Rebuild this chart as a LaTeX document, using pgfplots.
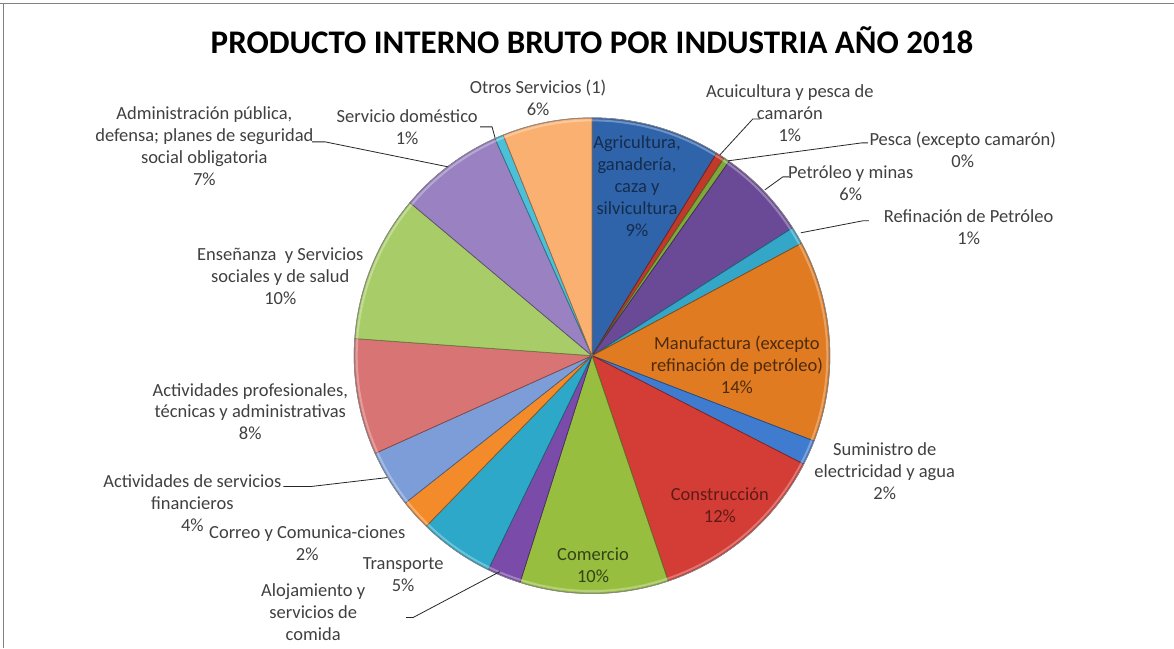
\documentclass[border=0pt]{standalone}
\usepackage{pgfplots}
\pgfplotsset{compat=1.18}
\usepackage{pgfplotstable}
\usepackage{fontspec}
\setmainfont{Carlito}

% slice colours, clockwise from 12 o'clock
\definecolor{c0}{HTML}{2F63AA}
\definecolor{c1}{HTML}{C0392B}
\definecolor{c2}{HTML}{7FA83A}
\definecolor{c3}{HTML}{6A4A96}
\definecolor{c4}{HTML}{34A6C8}
\definecolor{c5}{HTML}{E07B22}
\definecolor{c6}{HTML}{3F7CD0}
\definecolor{c7}{HTML}{D43C36}
\definecolor{c8}{HTML}{98BE40}
\definecolor{c9}{HTML}{7A4BA8}
\definecolor{c10}{HTML}{2DA8C8}
\definecolor{c11}{HTML}{F48B2A}
\definecolor{c12}{HTML}{7C9DD8}
\definecolor{c13}{HTML}{D97474}
\definecolor{c14}{HTML}{A8CC68}
\definecolor{c15}{HTML}{9A82C2}
\definecolor{c16}{HTML}{4BC0D8}
\definecolor{c17}{HTML}{FAB070}
\definecolor{lbl}{HTML}{404040}

% share of GDP (%) per industry, 2018
\pgfplotstableread{
val
8.8
0.6
0.4
6.2
1.2
13.7
1.7
12.3
10.1
2.3
5.1
2.1
3.9
7.9
10.0
7.2
0.6
6.1
}\piedata

\begin{document}
\begin{tikzpicture}[
  lab/.style={font=\fontsize{18.5bp}{22bp}\selectfont, align=center, inner sep=0pt, text=lbl},
]
\begin{axis}[
  width=1174bp, height=649bp, scale only axis,
  xmin=0, xmax=1174, ymin=0, ymax=649, y dir=reverse,
  hide axis, clip=false,
]
\fill[white] (axis cs:0,0) rectangle (axis cs:1174,649);
\draw[gray, line width=1bp] (axis cs:0,3.5) -- (axis cs:1174,3.5);
\draw[gray, line width=1bp] (axis cs:3.5,3.5) -- (axis cs:3.5,649);

% total for normalising
\pgfmathsetmacro\tot{0}
\pgfplotsforeachungrouped \i in {0,...,17}{%
  \pgfplotstablegetelem{\i}{val}\of\piedata
  \pgfmathsetmacro\tot{\tot+\pgfplotsretval}%
}
\pgfmathsetmacro\scl{360/\tot}
\pgfmathsetmacro\acc{0}
\pgfplotsforeachungrouped \i in {0,...,17}{%
  \pgfplotstablegetelem{\i}{val}\of\piedata
  \pgfmathsetmacro\sa{90-\scl*\acc}%
  \pgfmathsetmacro\acc{\acc+\pgfplotsretval}%
  \pgfmathsetmacro\sb{90-\scl*\acc}%
  \edef\temp{\noexpand\filldraw[fill=c\i, draw=c\i!60!black, line width=0.7bp]
    (axis cs:592,356) -- ++(\sa:238bp) arc[start angle=\sa, end angle=\sb, radius=238bp] -- cycle;}%
  \temp
}
% soft bevel on the rim
\draw[white, opacity=0.3, line width=2bp] (axis cs:592,356) circle[radius=235.5bp];
\draw[black!45, line width=0.7bp] (axis cs:592,356) circle[radius=238bp];

\node[font=\fontsize{33bp}{36bp}\selectfont\bfseries, text=black] at (axis cs:592,40) {PRODUCTO INTERNO BRUTO POR INDUSTRIA AÑO 2018};

% leader lines
\begin{scope}[black!85, line width=0.8bp]
\draw (axis cs:720,155) -- (axis cs:753,119) -- (axis cs:760,119);
\draw (axis cs:728,161) -- (axis cs:862,143) -- (axis cs:868,143);
\draw (axis cs:765,190) -- (axis cs:783,177) -- (axis cs:789,177);
\draw (axis cs:801,233) -- (axis cs:863,221) -- (axis cs:869,221);
\draw (axis cs:312,142) -- (axis cs:325,142) -- (axis cs:448,167);
\draw (axis cs:480,127) -- (axis cs:492,127) -- (axis cs:495,138);
\draw (axis cs:283,487) -- (axis cs:310,487) -- (axis cs:387,478);
\draw (axis cs:406,618) -- (axis cs:413,618) -- (axis cs:500,572);
\end{scope}

% outside labels
\node[lab] at (axis cs:538,97.5) {Otros Servicios (1)\\6\%};
\node[lab] at (axis cs:790,113) {Acuicultura y pesca de\\camarón\\1\%};
\node[lab] at (axis cs:963,150) {Pesca (excepto camarón)\\0\%};
\node[lab] at (axis cs:851,183.5) {Petróleo y minas\\6\%};
\node[lab] at (axis cs:969,227.5) {Refinación de Petróleo\\1\%};
\node[lab] at (axis cs:885,472) {Suministro de\\electricidad y agua\\2\%};
\node[lab] at (axis cs:403,575) {Transporte\\5\%};
\node[lab] at (axis cs:313,613) {Alojamiento y\\servicios de\\comida};
\node[lab] at (axis cs:307,544) {Correo y Comunica-ciones\\2\%};
\node[lab] at (axis cs:192,504) {Actividades de servicios\\financieros\\4\%};
\node[lab] at (axis cs:250,412) {Actividades profesionales,\\técnicas y administrativas\\8\%};
\node[lab] at (axis cs:280,276) {Enseñanza~ y Servicios\\sociales y de salud\\10\%};
\node[lab] at (axis cs:204,146) {Administración pública,\\defensa; planes de seguridad\\social obligatoria\\7\%};
\node[lab] at (axis cs:407,127.5) {Servicio doméstico\\1\%};

% inside labels
\node[lab, text=c0!45!black] at (axis cs:637,186) {Agricultura,\\ganadería,\\caza y\\silvicultura\\9\%};
\node[lab, text=c5!35!black] at (axis cs:737,365) {Manufactura (excepto\\refinación de petróleo)\\14\%};
\node[lab, text=c7!45!black] at (axis cs:720,506) {Construcción\\12\%};
\node[lab, text=c8!35!black] at (axis cs:593,566) {Comercio\\10\%};
\end{axis}
\end{tikzpicture}
\end{document}
